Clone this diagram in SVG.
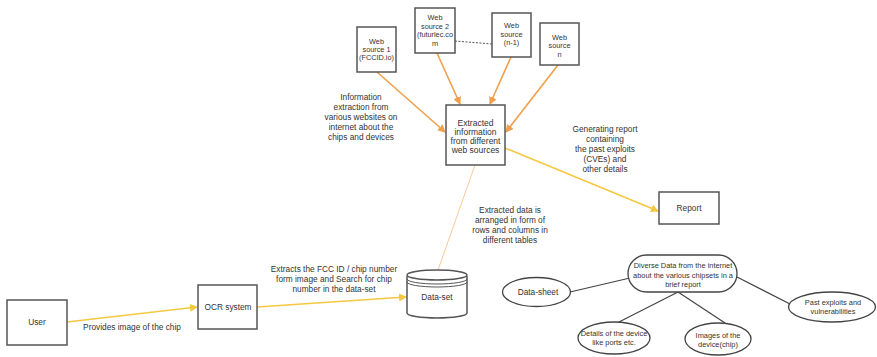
<svg xmlns="http://www.w3.org/2000/svg" width="877" height="357" viewBox="0 0 877 357">
<defs>
<style>
.box{fill:#fff;stroke:#555;stroke-width:1.5}
.ell{fill:#fff;stroke:#444;stroke-width:1.3}
.t{font-family:"Liberation Sans",Arial,sans-serif;font-size:8.3px;fill:#333;text-anchor:middle}
.tb{font-family:"Liberation Sans",Arial,sans-serif;font-size:8.5px;fill:#333;text-anchor:middle}
.ts{font-family:"Liberation Sans",Arial,sans-serif;font-size:7.3px;fill:#333;text-anchor:middle}
.te{font-family:"Liberation Sans",Arial,sans-serif;font-size:7.4px;fill:#333;text-anchor:middle}
.or{stroke:#f0a04b;stroke-width:1.6;fill:none}
.ye{stroke:#f5c842;stroke-width:1.6;fill:none}
.lo{stroke:#f8c99a;stroke-width:1;fill:none}
.gr{stroke:#444;stroke-width:1.2;fill:none}
</style>
<marker id="ao" markerWidth="8" markerHeight="8" refX="7" refY="4" orient="auto" markerUnits="userSpaceOnUse"><path d="M0,0 L8,4 L0,8 Z" fill="#f0a04b"/></marker>
<marker id="ay" markerWidth="8" markerHeight="8" refX="7" refY="4" orient="auto" markerUnits="userSpaceOnUse"><path d="M0,0 L8,4 L0,8 Z" fill="#f5c842"/></marker>
</defs>
<rect width="877" height="357" fill="#fff"/>
<g id="connectors">
<line class="or" x1="377" y1="72" x2="445" y2="132" marker-end="url(#ao)"/>
<line class="or" x1="437" y1="53" x2="460" y2="104" marker-end="url(#ao)"/>
<line class="or" x1="511" y1="57" x2="490" y2="104" marker-end="url(#ao)"/>
<line class="or" x1="558" y1="65" x2="506" y2="132" marker-end="url(#ao)"/>
<line x1="455" y1="41" x2="492" y2="44" stroke="#555" stroke-width="1" stroke-dasharray="2,1.5"/>
<line class="ye" x1="505" y1="148" x2="658" y2="211" marker-end="url(#ay)"/>
<line class="lo" x1="475" y1="165" x2="437" y2="273"/>
<line class="ye" x1="67" y1="322" x2="197" y2="307" marker-end="url(#ay)"/>
<line class="ye" x1="257" y1="307" x2="406" y2="297" marker-end="url(#ay)"/>
<line class="gr" x1="570" y1="292" x2="630" y2="278"/>
<line class="gr" x1="678" y1="292" x2="617" y2="323"/>
<line class="gr" x1="678" y1="292" x2="725" y2="323"/>
<line class="gr" x1="737" y1="277" x2="790" y2="304"/>
</g>
<g id="web-source-1">
<rect class="box" x="357" y="27" width="39" height="45"/>
<text class="ts"><tspan x="376.5" y="44">Web</tspan><tspan x="376.5" y="52">source 1</tspan><tspan x="376.5" y="60">(FCCID.io)</tspan></text>
</g>
<g id="web-source-2">
<rect class="box" x="415" y="8" width="40" height="45"/>
<text class="ts"><tspan x="435" y="20">Web</tspan><tspan x="435" y="28.5">source 2</tspan><tspan x="435" y="37">(futurlec.co</tspan><tspan x="435" y="45.5">m</tspan></text>
</g>
<g id="web-source-n-1">
<rect class="box" x="492" y="13" width="39" height="44"/>
<text class="ts"><tspan x="511.5" y="28">Web</tspan><tspan x="511.5" y="36.5">source</tspan><tspan x="511.5" y="45">(n-1)</tspan></text>
</g>
<g id="web-source-n">
<rect class="box" x="540" y="23" width="39" height="42"/>
<text class="ts"><tspan x="559.5" y="39.5">Web</tspan><tspan x="559.5" y="48">source</tspan><tspan x="559.5" y="56.5">n</tspan></text>
</g>
<g id="extracted">
<rect class="box" x="446" y="105" width="59" height="60"/>
<text class="tb"><tspan x="475.5" y="126">Extracted</tspan><tspan x="475.5" y="135">information</tspan><tspan x="475.5" y="144">from different</tspan><tspan x="475.5" y="153">web sources</tspan></text>
</g>
<g id="report">
<rect class="box" x="659" y="192" width="60" height="32"/>
<text class="t" x="689" y="211">Report</text>
</g>
<g id="user">
<rect class="box" x="7" y="300" width="60" height="45"/>
<text class="t" x="37" y="325">User</text>
</g>
<g id="ocr">
<rect class="box" x="198" y="285" width="59" height="44"/>
<text class="t" x="228" y="310">OCR system</text>
</g>
<g id="dataset">
<path class="box" d="M407,276 L407,313 A30,5 0 0 0 467,313 L467,276"/>
<ellipse class="box" cx="437" cy="275" rx="30" ry="5"/>
<path d="M407,279 A30,5 0 0 0 467,279 M407,282 A30,5 0 0 0 467,282" fill="none" stroke="#555" stroke-width="1"/>
<text class="t" x="437" y="300">Data-set</text>
</g>
<g id="labels">
<text class="t"><tspan x="361" y="100">Information</tspan><tspan x="361" y="110">extraction from</tspan><tspan x="361" y="120">various websites on</tspan><tspan x="361" y="130">internet about the</tspan><tspan x="361" y="140">chips and devices</tspan></text>
<text class="t"><tspan x="605" y="132">Generating report</tspan><tspan x="605" y="142">containing</tspan><tspan x="605" y="152">the past exploits</tspan><tspan x="605" y="162">(CVEs) and</tspan><tspan x="605" y="172">other details</tspan></text>
<text class="t"><tspan x="510" y="213">Extracted data is</tspan><tspan x="510" y="223">arranged in form of</tspan><tspan x="510" y="233">rows and columns in</tspan><tspan x="510" y="243">different tables</tspan></text>
<text class="t" x="132" y="330">Provides image of the chip</text>
<text class="t"><tspan x="334" y="272">Extracts the FCC ID / chip number</tspan><tspan x="334" y="282">form image and Search for chip</tspan><tspan x="334" y="292">number in the data-set</tspan></text>
</g>
<g id="diverse-data">
<rect class="ell" x="628" y="255" width="109" height="37" rx="18.5" ry="18.5"/>
<text class="te"><tspan x="683" y="268">Diverse Data from the internet</tspan><tspan x="683" y="277.5">about the various chipsets in a</tspan><tspan x="683" y="287">brief report</tspan></text>
</g>
<g id="data-sheet">
<ellipse class="ell" cx="536.5" cy="292" rx="34" ry="14.5"/>
<text class="t" x="538" y="295">Data-sheet</text>
</g>
<g id="past-exploits">
<ellipse class="ell" cx="832" cy="307" rx="43.5" ry="15"/>
<text class="te"><tspan x="833" y="305">Past exploits and</tspan><tspan x="833" y="314">vulnerabilities</tspan></text>
</g>
<g id="details">
<ellipse class="ell" cx="614" cy="338" rx="36" ry="16"/>
<text class="te"><tspan x="614" y="336">Details of the device</tspan><tspan x="614" y="345">like ports etc.</tspan></text>
</g>
<g id="images">
<ellipse class="ell" cx="718" cy="339" rx="33" ry="16"/>
<text class="te"><tspan x="718" y="338">Images of the</tspan><tspan x="718" y="347">device(chip)</tspan></text>
</g>
</svg>
